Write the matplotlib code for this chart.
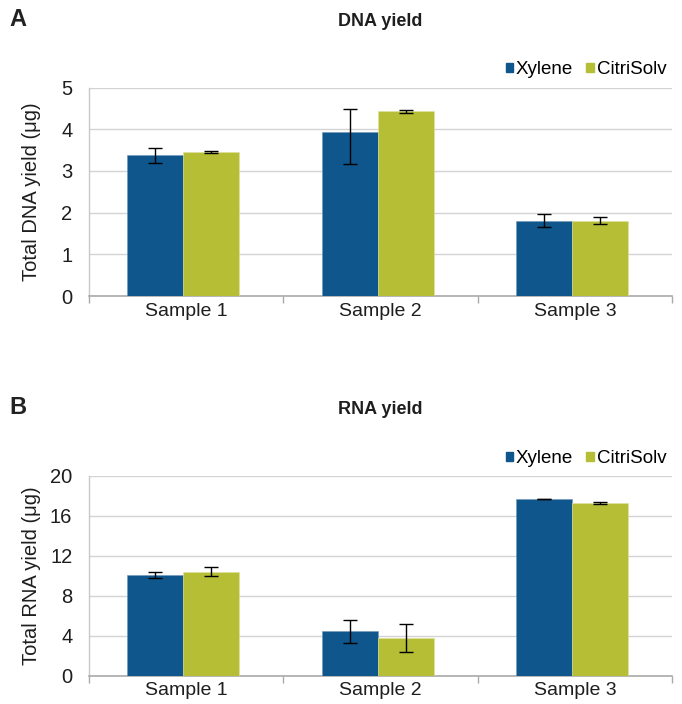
import matplotlib
matplotlib.use("Agg")
import matplotlib.pyplot as plt
import numpy as np
from matplotlib.patches import Patch

categories = ["Sample 1", "Sample 2", "Sample 3"]
series_names = ["Xylene", "CitriSolv"]

dna_xylene = [3.37, 3.94, 1.81]
dna_xylene_err_low = [0.17, 0.78, 0.15]
dna_xylene_err_high = [0.18, 0.54, 0.15]
dna_citri = [3.45, 4.43, 1.81]
dna_citri_err = [0.03, 0.04, 0.08]

rna_xylene = [10.1, 4.42, 17.69]
rna_xylene_err = [0.28, 1.17, 0.04]
rna_citri = [10.42, 3.72, 17.28]
rna_citri_err = [0.47, 1.4, 0.08]

dna_ticks = [0, 1, 2, 3, 4, 5]
rna_ticks = [0, 4, 8, 12, 16, 20]

BLUE = "#0E568B"
GREEN = "#B5BE35"
TXT = "#1e1e1e"
FONT = ["Liberation Sans", "DejaVu Sans"]
plt.rcParams["font.family"] = FONT

W, H = 682, 704
fig = plt.figure(figsize=(W / 100, H / 100), dpi=100)


def px_axes(left, top, right, bottom):
    return fig.add_axes([left / W, 1 - bottom / H, (right - left) / W, (bottom - top) / H])


def draw(ax, xy, xy_err, ct, ct_err, ticks, ylabel):
    x = np.arange(len(categories)) - 0.015
    bw = 0.288
    ax.bar(x - bw / 2, xy, bw, color=BLUE, edgecolor="#6f98b8", linewidth=0.4, zorder=3)
    ax.bar(x + bw / 2, ct, bw, color=GREEN, edgecolor="#dfe39f", linewidth=0.4, zorder=3)
    ax.errorbar(x - bw / 2, xy, yerr=xy_err, fmt="none", ecolor="black",
                elinewidth=1.0, capsize=5, capthick=1.0, zorder=4)
    ax.errorbar(x + bw / 2, ct, yerr=ct_err, fmt="none", ecolor="black",
                elinewidth=1.0, capsize=5, capthick=1.0, zorder=4)
    ax.set_xlim(-0.5, len(categories) - 0.5)
    ax.set_ylim(ticks[0], ticks[-1])
    ax.set_yticks(ticks)
    ax.set_yticklabels([str(t) for t in ticks], fontsize=14.5, color=TXT)
    ax.yaxis.grid(True, color="#D4D4D4", linewidth=1.0, zorder=0)
    ax.set_axisbelow(True)
    ax.tick_params(axis="y", length=0, pad=12)
    ax.set_xticks(np.arange(len(categories)))
    ax.set_xticklabels(categories, fontsize=14, color=TXT)
    ax.tick_params(axis="x", which="major", length=0, pad=5)
    ax.set_xticks(np.arange(-0.5, len(categories)), minor=True)
    ax.tick_params(axis="x", which="minor", length=5, color="#AAAAAA", width=1.0)
    for s in ["top", "right"]:
        ax.spines[s].set_visible(False)
    ax.spines["left"].set_color("#C8C8C8")
    ax.spines["bottom"].set_color("#AAAAAA")
    ax.spines["left"].set_linewidth(1.0)
    ax.spines["bottom"].set_linewidth(1.2)
    ax.set_ylabel(ylabel, fontsize=14.5, color=TXT)
    ax.yaxis.set_label_coords(-0.083, 0.5)
    handles = [Patch(color=BLUE, label=series_names[0]), Patch(color=GREEN, label=series_names[1])]
    ax.legend(handles=handles, loc="lower right", bbox_to_anchor=(0.99, 1.045), ncol=2,
              frameon=False, fontsize=13.5, handlelength=0.4, handleheight=0.4,
              handletextpad=0.15, columnspacing=0.7, borderaxespad=0.0, borderpad=0.0)


axA = px_axes(89, 87.5, 672, 296)
draw(axA, dna_xylene, [dna_xylene_err_low, dna_xylene_err_high], dna_citri, dna_citri_err,
     dna_ticks, "Total DNA yield (\u03bcg)")
axB = px_axes(89, 476, 672, 675.5)
draw(axB, rna_xylene, rna_xylene_err, rna_citri, rna_citri_err,
     rna_ticks, "Total RNA yield (\u03bcg)")

fig.text(380 / W, 1 - 22 / H, "DNA yield", ha="center", va="center", fontsize=13, fontweight="bold", color=TXT)
fig.text(380 / W, 1 - 409 / H, "RNA yield", ha="center", va="center", fontsize=13, fontweight="bold", color=TXT)
fig.text(9 / W, 1 - 20 / H, "A", ha="left", va="center", fontsize=17, fontweight="bold", color="#222222")
fig.text(9 / W, 1 - 408 / H, "B", ha="left", va="center", fontsize=17, fontweight="bold", color="#222222")

fig.savefig("out.png", dpi=100)
